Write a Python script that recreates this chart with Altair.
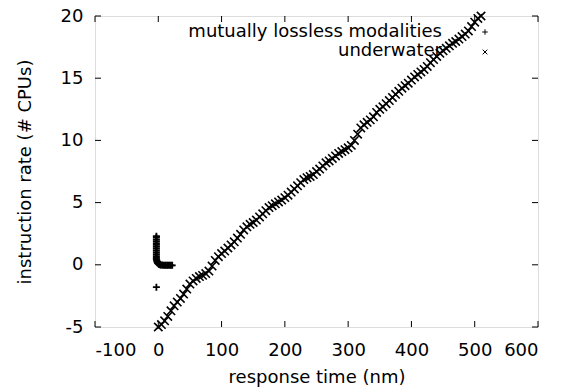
import altair as alt
import pandas as pd

# underwater series (x markers)
uw_x = [0, 5, 10, 15, 20, 25, 30, 35, 40, 45, 50, 55, 60, 65, 70, 75, 80, 85, 90, 95,
        100, 105, 110, 115, 120, 125, 130, 135, 140, 145, 150, 155, 160, 165, 170, 175,
        180, 185, 190, 195, 200, 205, 210, 215, 220, 225, 230, 235, 240, 245, 250, 255,
        260, 265, 270, 275, 280, 285, 290, 295, 300, 305, 310, 315, 320, 325, 330, 335,
        340, 345, 350, 355, 360, 365, 370, 375, 380, 385, 390, 395, 400, 405, 410, 415,
        420, 425, 430, 435, 440, 445, 450, 455, 460, 465, 470, 475, 480, 485, 490, 495,
        500, 505, 510]
uw_y = [-5.0, -4.8, -4.5, -4.15, -3.7, -3.3, -3.0, -2.7, -2.35, -1.95, -1.55, -1.3, -1.1,
        -0.95, -0.85, -0.7, -0.5, -0.1, 0.35, 0.65, 0.9, 1.1, 1.35, 1.6, 1.85, 2.15, 2.45,
        2.8, 3.05, 3.25, 3.4, 3.6, 3.85, 4.1, 4.35, 4.6, 4.75, 4.9, 5.05, 5.2, 5.4, 5.6,
        5.85, 6.1, 6.35, 6.6, 6.85, 7.0, 7.1, 7.25, 7.5, 7.7, 7.95, 8.2, 8.35, 8.55, 8.75,
        8.95, 9.1, 9.25, 9.4, 9.6, 10.0, 10.5, 11.0, 11.25, 11.45, 11.65, 11.9, 12.25, 12.5,
        12.7, 12.95, 13.2, 13.45, 13.7, 13.95, 14.2, 14.4, 14.6, 14.85, 15.1, 15.3, 15.5,
        15.7, 15.95, 16.25, 16.5, 16.75, 17.0, 17.2, 17.4, 17.6, 17.8, 17.95, 18.15, 18.35,
        18.55, 18.8, 19.15, 19.5, 19.8, 20.0]

# mutually lossless modalities series (+ markers)
ml_x = [-3, -3, -3, -3, -3, -3, -3, -3, -3, -3, -3, -3, -3, -3, -2.5, -2, -1.5, -1, 0, 1,
        2, 3, 4, 6, 8, 10, 12, 14, 16, 18, 20, 22, -3]
ml_y = [2.3, 2.2, 2.05, 1.9, 1.75, 1.6, 1.45, 1.3, 1.15, 1.0, 0.85, 0.7, 0.55, 0.45, 0.35,
        0.27, 0.2, 0.14, 0.08, 0.04, 0.02, 0.0, -0.01, -0.02, -0.03, -0.03, -0.03, -0.04,
        -0.04, -0.04, -0.04, -0.04, -1.8]

x_ticks = [-100, 0, 100, 200, 300, 400, 500, 600]
y_ticks = [-5, 0, 5, 10, 15, 20]

legend_labels = ["mutually lossless modalities", "underwater"]

W, H = 443, 311
FONT = "DejaVu Sans"
FS = 18

PLUS = "M-1,0L1,0M0,-1L0,1"
CROSS = "M-1,-1L1,1M-1,1L1,-1"

xs = alt.Scale(domain=[-100, 600], nice=False, zero=False)
ys = alt.Scale(domain=[-5, 20], nice=False, zero=False)

uw = pd.DataFrame({"x": uw_x, "y": uw_y})
ml = pd.DataFrame({"x": ml_x, "y": ml_y})
xt = pd.DataFrame({"x": x_ticks})
yt = pd.DataFrame({"y": y_ticks})

axis_common = dict(domain=False, ticks=False, grid=False,
                   labelFontSize=FS, titleFontSize=FS, labelFont=FONT, titleFont=FONT,
                   labelColor="black", titleColor="black", titleFontWeight="normal",
                   labelExpr="'' + datum.value")

x_enc = alt.X("x:Q", scale=xs, axis=alt.Axis(values=x_ticks, title="response time (nm)",
              labelPadding=14, titlePadding=9, **axis_common))
y_enc = alt.Y("y:Q", scale=ys, axis=alt.Axis(values=y_ticks, title="instruction rate (# CPUs)",
              labelPadding=12, titlePadding=26, **axis_common))

pts_uw = alt.Chart(uw).mark_point(shape=CROSS, size=70, strokeWidth=1.6, color="black",
                                  filled=False, opacity=1).encode(x=x_enc, y=y_enc)
pts_ml = alt.Chart(ml).mark_point(shape=PLUS, size=49, strokeWidth=1.8, color="black",
                                  filled=False, opacity=1).encode(
    x=alt.X("x:Q", scale=xs), y=alt.Y("y:Q", scale=ys))

tick_b = alt.Chart(xt).mark_rule(color="black", strokeWidth=1).encode(
    x=alt.X("x:Q", scale=xs), y=alt.value(H), y2=alt.value(H - 6))
tick_t = alt.Chart(xt).mark_rule(color="black", strokeWidth=1).encode(
    x=alt.X("x:Q", scale=xs), y=alt.value(0), y2=alt.value(6))
tick_l = alt.Chart(yt).mark_rule(color="black", strokeWidth=1).encode(
    y=alt.Y("y:Q", scale=ys), x=alt.value(0), x2=alt.value(6))
tick_r = alt.Chart(yt).mark_rule(color="black", strokeWidth=1).encode(
    y=alt.Y("y:Q", scale=ys), x=alt.value(W), x2=alt.value(W - 6))

leg = pd.DataFrame({"label": legend_labels})
leg_text1 = alt.Chart(leg.iloc[[0]]).mark_text(align="right", baseline="middle", font=FONT,
                                               fontSize=FS, color="black").encode(
    text="label:N", x=alt.value(347), y=alt.value(16))
leg_text2 = alt.Chart(leg.iloc[[1]]).mark_text(align="right", baseline="middle", font=FONT,
                                               fontSize=FS, color="black").encode(
    text="label:N", x=alt.value(347), y=alt.value(35))
leg_plus = alt.Chart(leg.iloc[[0]]).mark_point(shape=PLUS, size=30, strokeWidth=1,
                                               color="black", opacity=1).encode(
    x=alt.value(390), y=alt.value(16))
leg_cross = alt.Chart(leg.iloc[[1]]).mark_point(shape=CROSS, size=22, strokeWidth=1,
                                                color="black", opacity=1).encode(
    x=alt.value(390), y=alt.value(36))

chart = alt.layer(leg_text1, leg_text2, leg_plus, leg_cross, pts_ml, pts_uw,
                  tick_b, tick_t, tick_l, tick_r).properties(
    width=W, height=H,
    autosize=alt.AutoSizeParams(type="none"),
    padding={"left": 95, "top": 16, "right": 32, "bottom": 65},
).configure_view(stroke="black", strokeWidth=1).configure(background="white")

chart.save("out.html", embed_options={"renderer": "svg", "actions": False})
